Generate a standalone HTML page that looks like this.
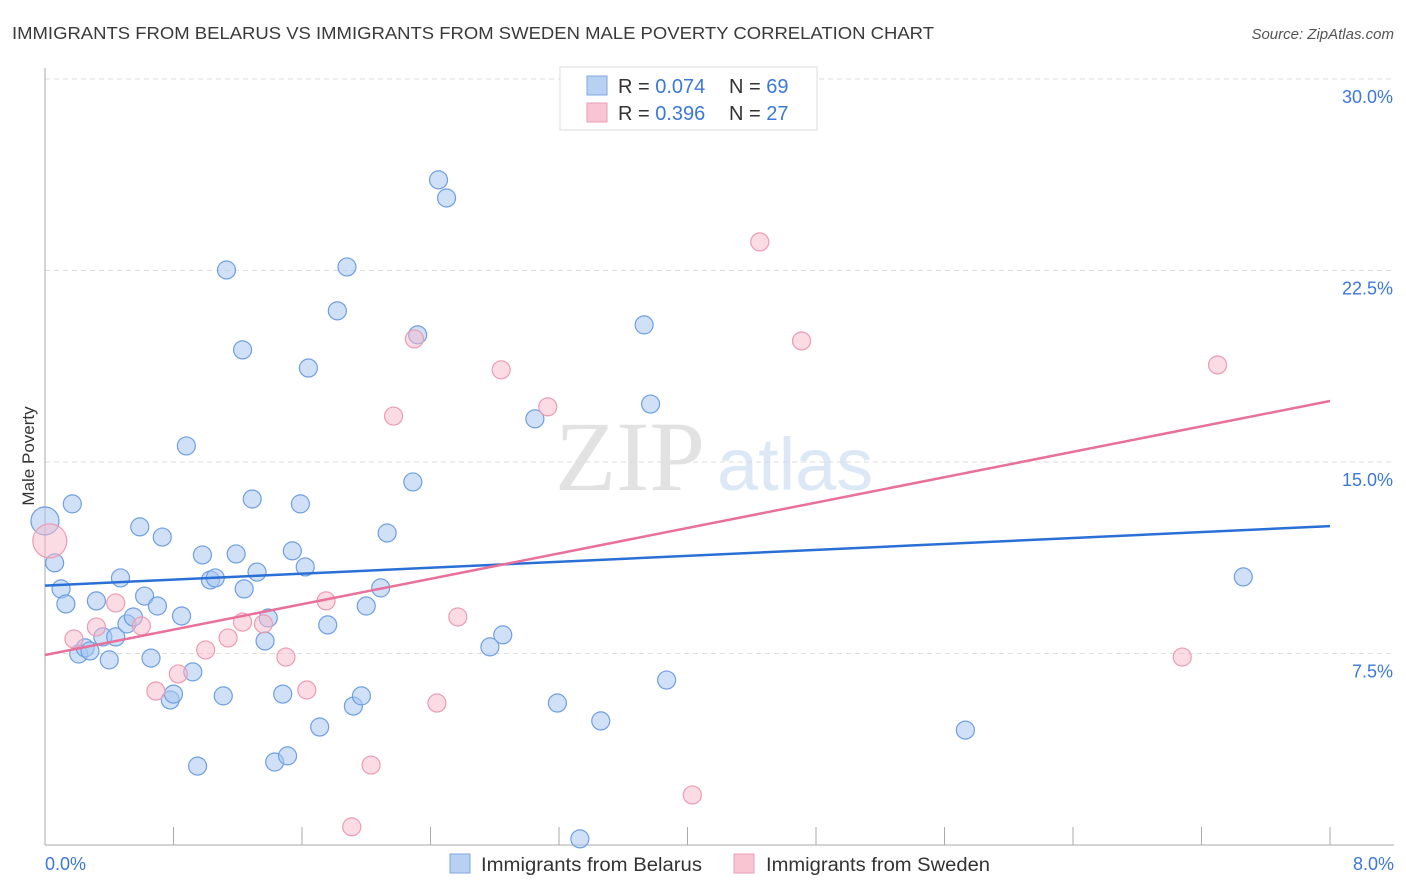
<!DOCTYPE html>
<html><head><meta charset="utf-8"><style>
body{margin:0;background:#fff;font-family:"Liberation Sans",sans-serif;}
svg{display:block}
</style></head><body>
<svg id="chart" width="1406" height="892">
<text x="12" y="39" font-size="17.5" fill="#3a3a3a" textLength="922" lengthAdjust="spacingAndGlyphs">IMMIGRANTS FROM BELARUS VS IMMIGRANTS FROM SWEDEN MALE POVERTY CORRELATION CHART</text>
<text x="1394" y="39" font-size="15" fill="#555" font-style="italic" text-anchor="end">Source: ZipAtlas.com</text>
<text x="555" y="490" font-size="100" fill="#e2e2e2" font-family="Liberation Serif,serif">ZIP</text>
<text x="717" y="490" font-size="74" fill="#dde8f7">atlas</text>
<g id="grid"></g><g id="axes"></g><g id="marks"></g>
<text transform="translate(34,456) rotate(-90)" font-size="17" fill="#333" text-anchor="middle">Male Poverty</text>
<g>
<rect x="560" y="67" width="257" height="63" fill="#fff" stroke="#ddd"/>
<rect x="587" y="76" width="20" height="19" fill="#b8d1f3" stroke="#7fa7e0"/>
<rect x="587" y="103" width="20" height="19" fill="#f9c5d3" stroke="#ec9bb4"/>
<text x="618" y="93" font-size="20" fill="#333">R = <tspan fill="#3b78d8">0.074</tspan></text>
<text x="729" y="93" font-size="20" fill="#333">N = <tspan fill="#3b78d8">69</tspan></text>
<text x="618" y="120" font-size="20" fill="#333">R = <tspan fill="#3b78d8">0.396</tspan></text>
<text x="729" y="120" font-size="20" fill="#333">N = <tspan fill="#3b78d8">27</tspan></text>
</g>
<g>
<rect x="450" y="854" width="20" height="19" fill="#b8d1f3" stroke="#7fa7e0"/>
<text x="481" y="871" font-size="19" fill="#333" textLength="221" lengthAdjust="spacingAndGlyphs">Immigrants from Belarus</text>
<rect x="734" y="854" width="20" height="19" fill="#f9c5d3" stroke="#ec9bb4"/>
<text x="766" y="871" font-size="19" fill="#333" textLength="224" lengthAdjust="spacingAndGlyphs">Immigrants from Sweden</text>
</g>
</svg>
<script>
const belarusX=[0,0.06,0.17,0.10,0.13,0.21,0.25,0.28,0.32,0.36,0.40,0.44,0.47,0.51,0.55,0.59,0.62,0.66,0.70,0.73,0.78,0.80,0.85,0.88,0.92,0.95,0.98,1.03,1.06,1.11,1.13,1.19,1.23,1.24,1.29,1.32,1.37,1.39,1.43,1.48,1.51,1.54,1.59,1.62,1.64,1.71,1.76,1.82,1.88,1.92,1.97,2.00,2.09,2.13,2.29,2.32,2.45,2.50,2.77,2.85,3.05,3.19,3.33,3.46,3.73,3.77,3.87,5.73,7.46];
const belarusY=[12.69,11.05,13.36,10.03,9.44,7.48,7.72,7.60,9.56,8.15,7.25,8.15,10.46,8.66,8.93,12.46,9.75,7.32,9.36,12.06,5.68,5.91,8.97,15.63,6.78,3.09,11.36,10.38,10.46,5.84,22.52,11.40,19.39,10.03,13.55,10.69,7.99,8.89,3.25,5.91,3.49,11.52,13.36,10.89,18.68,4.62,8.62,20.92,22.64,5.44,5.84,9.36,10.07,12.22,14.22,19.98,26.05,25.34,7.76,8.23,16.69,5.56,0.24,4.86,20.37,17.27,6.46,4.50,10.50];
const swedenX=[0.03,0.18,0.32,0.44,0.60,0.69,0.83,1.00,1.14,1.23,1.36,1.50,1.63,1.75,1.91,2.03,2.17,2.30,2.44,2.57,2.84,3.13,4.03,4.45,4.71,7.08,7.30];
const swedenY=[11.91,8.07,8.54,9.48,8.58,6.03,6.70,7.64,8.11,8.73,8.66,7.36,6.07,9.56,0.71,3.13,16.80,19.82,5.56,8.93,18.61,17.16,1.96,23.62,19.74,7.36,18.80];
const belarusTrend=[10.16,12.49];
const swedenTrend=[7.44,17.39];
const yTicks=[7.5,15.0,22.5,30.0];
const xTickLabels=["0.0%","8.0%"];

const NS="http://www.w3.org/2000/svg";
const X0=45,X1=1330,Y0=845,YTOP=79;
const xs=v=>X0+(v/8)*(X1-X0);
const ys=v=>Y0-(v/30)*(Y0-YTOP);
function mk(tag,attrs,parent){const e=document.createElementNS(NS,tag);for(const k in attrs)e.setAttribute(k,attrs[k]);parent.appendChild(e);return e;}
const grid=document.getElementById('grid'),axes=document.getElementById('axes'),marks=document.getElementById('marks');
yTicks.forEach(t=>{
  const l=mk('line',{x1:X0,x2:1394,y1:ys(t),y2:ys(t),stroke:'#ddd','stroke-dasharray':'5,4'},grid);
  
  
  const tx=mk('text',{x:1393,y:ys(t)+24,'font-size':18,fill:'#3b78d8','text-anchor':'end'},axes);
  tx.textContent=t.toFixed(1)+'%';
  
  
});
const ax=mk('line',{x1:X0,x2:1394,y1:Y0,y2:Y0,stroke:'#aaa'},axes);


const ay=mk('line',{x1:X0,x2:X0,y1:68,y2:Y0,stroke:'#aaa'},axes);


for(let i=0;i<=10;i++){
  const tk=mk('line',{x1:xs(i*0.8),x2:xs(i*0.8),y1:Y0,y2:Y0-18,stroke:'#aaa'},axes);
  
  
}
[[0,'start',45],[8,'end',1394]].forEach((d,i)=>{
  const tx=mk('text',{x:d[2],y:870,'font-size':18,fill:'#3b78d8','text-anchor':d[1]},axes);
  tx.textContent=xTickLabels[i];
  
  
});
belarusX.forEach((x,i)=>{
  const c=mk('circle',{cx:xs(x),cy:ys(belarusY[i]),r:i===0?14:9,fill:'rgba(168,198,240,0.55)',stroke:'#6f9fe2','stroke-width':1.2},marks);
  
  
});
swedenX.forEach((x,i)=>{
  const c=mk('circle',{cx:xs(x),cy:ys(swedenY[i]),r:i===0?17:9,fill:'rgba(247,185,204,0.5)',stroke:'#ec9bb4','stroke-width':1.2},marks);
  
  
});
const lb=mk('line',{x1:xs(0),y1:ys(belarusTrend[0]),x2:xs(8),y2:ys(belarusTrend[1]),stroke:'#2a6fd6','stroke-width':2.5},marks);


const lp=mk('line',{x1:xs(0),y1:ys(swedenTrend[0]),x2:xs(8),y2:ys(swedenTrend[1]),stroke:'#e8709a','stroke-width':2.5},marks);


</script>
</body></html>
